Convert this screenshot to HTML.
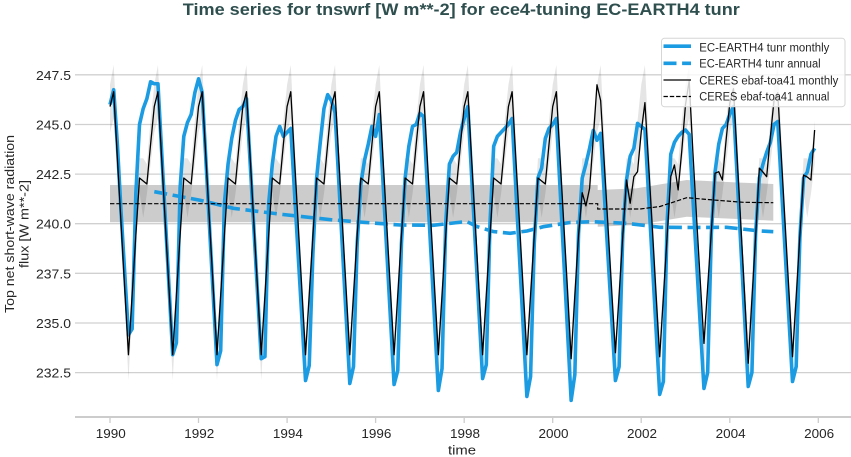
<!DOCTYPE html>
<html>
<head>
<meta charset="utf-8">
<style>
html,body{margin:0;padding:0;background:#fff;}
svg{display:block;}
text{font-family:"Liberation Sans","DejaVu Sans",sans-serif;}
.nss{vector-effect:non-scaling-stroke;}
</style>
</head>
<body>
<svg width="851" height="457" viewBox="0 0 851 457" xmlns="http://www.w3.org/2000/svg">
<rect x="0" y="0" width="851" height="457" fill="#ffffff"/>

<!-- title -->
<text x="461.3" y="15" text-anchor="middle" font-size="16.5" font-weight="bold" fill="#2f4f4f" textLength="557" lengthAdjust="spacingAndGlyphs">Time series for tnswrf [W m**-2] for ece4-tuning EC-EARTH4 tunr</text>

<!-- gridlines -->
<g stroke="#d0d0d0" stroke-width="1.3">
<line x1="75" y1="74.8" x2="851" y2="74.8"/>
<line x1="75" y1="124.5" x2="851" y2="124.5"/>
<line x1="75" y1="174.1" x2="851" y2="174.1"/>
<line x1="75" y1="223.7" x2="851" y2="223.7"/>
<line x1="75" y1="273.3" x2="851" y2="273.3"/>
<line x1="75" y1="323.0" x2="851" y2="323.0"/>
<line x1="75" y1="372.6" x2="851" y2="372.6"/>
</g>

<!-- bottom spine and ticks -->
<line x1="75" y1="417" x2="851" y2="417" stroke="#cccccc" stroke-width="2"/>
<g stroke="#cccccc" stroke-width="1.3">
<line x1="110" y1="418" x2="110" y2="423"/>
<line x1="198.5" y1="418" x2="198.5" y2="423"/>
<line x1="287.1" y1="418" x2="287.1" y2="423"/>
<line x1="375.6" y1="418" x2="375.6" y2="423"/>
<line x1="464.2" y1="418" x2="464.2" y2="423"/>
<line x1="552.7" y1="418" x2="552.7" y2="423"/>
<line x1="641.2" y1="418" x2="641.2" y2="423"/>
<line x1="729.8" y1="418" x2="729.8" y2="423"/>
<line x1="818.3" y1="418" x2="818.3" y2="423"/>
</g>

<!-- y tick labels -->
<g font-size="12.5" fill="#262626" text-anchor="end">
<text x="71" y="79.8" textLength="35" lengthAdjust="spacingAndGlyphs">247.5</text>
<text x="71" y="129.5" textLength="35" lengthAdjust="spacingAndGlyphs">245.0</text>
<text x="71" y="179.1" textLength="35" lengthAdjust="spacingAndGlyphs">242.5</text>
<text x="71" y="228.7" textLength="35" lengthAdjust="spacingAndGlyphs">240.0</text>
<text x="71" y="278.3" textLength="35" lengthAdjust="spacingAndGlyphs">237.5</text>
<text x="71" y="328.0" textLength="35" lengthAdjust="spacingAndGlyphs">235.0</text>
<text x="71" y="377.6" textLength="35" lengthAdjust="spacingAndGlyphs">232.5</text>
</g>

<!-- x tick labels -->
<g font-size="12.5" fill="#262626" text-anchor="middle">
<text x="110.8" y="438" textLength="30" lengthAdjust="spacingAndGlyphs">1990</text>
<text x="199.3" y="438" textLength="30" lengthAdjust="spacingAndGlyphs">1992</text>
<text x="287.9" y="438" textLength="30" lengthAdjust="spacingAndGlyphs">1994</text>
<text x="376.4" y="438" textLength="30" lengthAdjust="spacingAndGlyphs">1996</text>
<text x="465" y="438" textLength="30" lengthAdjust="spacingAndGlyphs">1998</text>
<text x="553.5" y="438" textLength="30" lengthAdjust="spacingAndGlyphs">2000</text>
<text x="642" y="438" textLength="30" lengthAdjust="spacingAndGlyphs">2002</text>
<text x="730.6" y="438" textLength="30" lengthAdjust="spacingAndGlyphs">2004</text>
<text x="819.1" y="438" textLength="30" lengthAdjust="spacingAndGlyphs">2006</text>
</g>

<!-- axis labels -->
<text x="462" y="454.5" font-size="13" fill="#262626" text-anchor="middle" textLength="28" lengthAdjust="spacingAndGlyphs">time</text>
<text transform="translate(14,224) rotate(-90)" font-size="13" fill="#262626" text-anchor="middle" textLength="178" lengthAdjust="spacingAndGlyphs">Top net short-wave radiation</text>
<text transform="translate(28.5,224) rotate(-90)" font-size="13" fill="#262626" text-anchor="middle" textLength="88" lengthAdjust="spacingAndGlyphs">flux [W m**-2]</text>

<!-- CERES annual band -->
<polygon points="110,185 597.7,185 597.7,190 636.7,188.3 686.7,180 743.3,182.7 773.3,184 773.3,220.7 743.3,219.3 686.7,216.7 636.7,225 597.7,226.7 597.7,222.3 110,222.3" fill="#000" fill-opacity="0.2"/>

<defs>
<polygon id="yb" points="0,7 1,8 2,4.3 3,0.8 4,-2.6 5,-5.8 6,-2.8 7,0.2 8,3.3 9,3.3 10,3 11,5.2 12,7 12,4.6 11,3 10,1.5 9,0.3 8,1.6 7,-1.4 6,-4.4 5,-7.9 4,-4 3,-0.7 2,2.3 1,5.3 0,4.6" fill="#000" fill-opacity="0.1"/>
<polygon id="ybl" points="0,7 1,8 2,4.3 3,0.8 4,-2.6 5,-5.8 6,-2.8 7,0.2 8,3.3 9,3.3 10,3 11,5.2 11,3 10,1.5 9,0.3 8,1.6 7,-1.4 6,-4.4 5,-7.9 4,-4 3,-0.7 2,2.3 1,5.3 0,4.6" fill="#000" fill-opacity="0.1"/>
</defs>

<g transform="translate(110,223.7) scale(3.689167,-19.85)">
<!-- CERES monthly band -->
<use href="#yb"/>
<use href="#yb" transform="translate(12,0)"/>
<use href="#yb" transform="translate(24,0)"/>
<use href="#yb" transform="translate(36,0)"/>
<use href="#yb" transform="translate(48,0)"/>
<use href="#yb" transform="translate(60,0)"/>
<use href="#yb" transform="translate(72,0)"/>
<use href="#yb" transform="translate(84,0)"/>
<use href="#yb" transform="translate(96,0)"/>
<use href="#yb" transform="translate(108,0)"/>
<use href="#yb" transform="translate(120,0)"/>
<use href="#yb" transform="translate(132,0)"/>
<use href="#yb" transform="translate(144,0)"/>
<use href="#yb" transform="translate(156,0)"/>
<use href="#yb" transform="translate(168,0)"/>
<use href="#ybl" transform="translate(180,0)"/>

<!-- EC-EARTH4 monthly -->
<polyline class="nss" fill="none" stroke="#1b9be2" stroke-width="3.6" stroke-linejoin="round" stroke-linecap="butt" points="0,6.0 1,6.75 2,4.0 3,0.58 4,-2.51 5,-5.6 6,-5.3 7,1.5 8,5 9,5.8 10,6.3 11,7.15 12,7.05 13,7.05 14,3.64 15,0.23 16,-3.19 17,-6.6 18,-6 19,1.8 20,4.4 21,5.1 22,5.5 23,6.6 24,7.3 25,6.6 26,3.18 27,-0.25 28,-3.68 29,-7.1 30,-6.4 31,1 32,3 33,4.3 34,5.2 35,5.75 36,5.9 37,6.3 38,3.03 39,-0.25 40,-3.53 41,-6.8 42,-6.7 43,1 44,3 45,4.4 46,4.9 47,4.4 48,4.6 49,4.8 50,1.63 51,-1.55 52,-4.73 53,-7.9 54,-7.15 55,-1.5 56,2.3 57,4.1 58,5.8 59,6.5 60,6.2 61,5.6 62,2.19 63,-1.23 64,-4.64 65,-8.05 66,-7.2 67,-1 68,2 69,3.2 70,4 71,4.9 72,4.4 73,5.5 74,2.1 75,-1.3 76,-4.7 77,-8.1 78,-7.4 79,-1 80,2.3 81,3.9 82,4.9 83,5 84,5.56 85,5.4 86,1.95 87,-1.5 88,-4.95 89,-8.4 90,-7.3 91,0 92,3 93,3.4 94,3.6 95,4.6 96,5.3 97,5.9 98,2.48 99,-0.95 100,-4.38 101,-7.8 102,-7.1 103,0 104,3.9 105,4.4 106,4.6 107,4.8 108,5 109,5.3 110,1.8 111,-1.7 112,-5.2 113,-8.7 114,-7.7 115,-1 116,2.3 117,2.8 118,4.3 119,4.8 120,5 121,5.3 122,1.75 123,-1.8 124,-5.35 125,-8.9 126,-7.6 127,-0.5 128,2.3 129,3 130,3.8 131,4.7 132,4.2 133,4.55 134,1.44 135,-1.68 136,-4.79 137,-7.9 138,-7.2 139,-0.5 140,2.2 141,3.4 142,3.8 143,5.05 144,4.9 145,4.75 146,1.41 147,-1.93 148,-5.26 149,-8.6 150,-7.95 151,0 152,3.5 153,4.1 154,4.4 155,4.6 156,4.72 157,4.5 158,1.3 159,-1.9 160,-5.1 161,-8.3 162,-7.5 163,-0.5 164,2.6 165,4 166,4.8 167,5 168,5.5 169,5.9 170,2.38 171,-1.15 172,-4.68 173,-8.2 174,-7.5 175,-0.5 176,2.3 177,3 178,3.6 179,4.1 180,5 181,5.15 182,1.88 183,-1.4 184,-4.68 185,-7.95 186,-7.2 187,-0.7 188,2.3 189,2.6 190,3.5 191,3.8"/>
</g>

<!-- EC-EARTH4 annual (dashed) -->
<polyline fill="none" stroke="#1b9be2" stroke-width="3.6" stroke-dasharray="13,5.6" points="154.3,191.7 200,200.2 233.3,208.3 283,214.5 333.3,220 366,222.5 400,225 433,225.3 466.7,221.5 476.7,226.5 493,231.5 510,233.3 527,231 543.3,226.7 570,222.5 593.3,221.7 626.7,223.3 660,227.3 693,227.5 726.7,227.3 760,231 773.3,231.7"/>

<g transform="translate(110,223.7) scale(3.689167,-19.85)">
<!-- CERES monthly -->
<polyline class="nss" fill="none" stroke="#000" stroke-width="1.3" stroke-linejoin="round" points="0,5.9 1,6.65 2,3.3 3,0 4,-3.3 5,-6.6 6,-3.6 7,-0.6 8,2.3 9,2.15 10,2 11,4 12,5.9 13,6.65 14,3.3 15,0 16,-3.3 17,-6.6 18,-3.6 19,-0.6 20,2.3 21,2.15 22,2 23,4 24,5.9 25,6.65 26,3.3 27,0 28,-3.3 29,-6.6 30,-3.6 31,-0.6 32,2.3 33,2.15 34,2 35,4 36,5.9 37,6.65 38,3.3 39,0 40,-3.3 41,-6.6 42,-3.6 43,-0.6 44,2.3 45,2.15 46,2 47,4 48,5.9 49,6.65 50,3.3 51,0 52,-3.3 53,-6.6 54,-3.6 55,-0.6 56,2.3 57,2.15 58,2 59,4 60,5.9 61,6.65 62,3.3 63,0 64,-3.3 65,-6.6 66,-3.6 67,-0.6 68,2.3 69,2.15 70,2 71,4 72,5.9 73,6.65 74,3.3 75,0 76,-3.3 77,-6.6 78,-3.6 79,-0.6 80,2.3 81,2.15 82,2 83,4 84,5.9 85,6.65 86,3.3 87,0 88,-3.3 89,-6.6 90,-3.6 91,-0.6 92,2.3 93,2.15 94,2 95,4 96,5.9 97,6.65 98,3.3 99,0 100,-3.3 101,-6.6 102,-3.6 103,-0.6 104,2.3 105,2.15 106,2 107,4 108,5.9 109,6.65 110,3.3 111,0 112,-3.3 113,-6.6 114,-3.6 115,-0.6 116,2.3 117,2.15 118,2 119,4 120,5.9 121,6.65 122,3.3 123,0 124,-3.3 125,-6.8 126,-3.6 127,-0.6 128,1.56 129,0.9 130,1.78 131,4.3 132,7 133,6.2 134,3 135,-0.2 136,-3.4 137,-6.5 138,-3.6 139,-0.6 140,2.2 141,1.03 142,2.37 143,2.62 144,4.63 145,6.1 146,3 147,-0.2 148,-3.5 149,-6.7 150,-3.7 151,-0.7 152,2.37 153,2.96 154,1.7 155,3.7 156,6 157,7.2 158,3.6 159,0.3 160,-2.9 161,-6.03 162,-3.2 163,-0.4 164,2.54 165,2.62 166,2.2 167,4.2 168,6.07 169,6.8 170,3.3 171,-0.1 172,-3.5 173,-7.03 174,-3.8 175,-0.7 176,2.8 177,2.6 178,2.37 179,4.38 180,6.23 181,6.6 182,3.3 183,0 184,-3.3 185,-6.7 186,-3.7 187,-0.6 188,2.45 189,2.35 190,2.2 191,4.72"/>
</g>

<!-- CERES annual (dashed) -->
<polyline fill="none" stroke="#000" stroke-width="1.2" stroke-dasharray="4.4,1.9" points="110,203.7 597.7,203.7 597.7,209 640,209 660,206.5 686.7,197.7 713.3,200 743.3,202.3 773.3,202.7"/>

<!-- legend -->
<rect x="661.5" y="38.3" width="183.5" height="68.4" rx="3" ry="3" fill="#ffffff" fill-opacity="0.8" stroke="#d6d6d6" stroke-width="1"/>
<line x1="663.5" y1="46.2" x2="691" y2="46.2" stroke="#1b9be2" stroke-width="3.6"/>
<line x1="663.5" y1="63.3" x2="691" y2="63.3" stroke="#1b9be2" stroke-width="3.6" stroke-dasharray="13,5.6"/>
<line x1="663.5" y1="80" x2="691" y2="80" stroke="#000" stroke-width="1.3"/>
<line x1="663.5" y1="96.5" x2="691" y2="96.5" stroke="#000" stroke-width="1.2" stroke-dasharray="4.4,1.9"/>
<g font-size="11.5" fill="#262626">
<text x="699.3" y="51.3" textLength="130" lengthAdjust="spacingAndGlyphs">EC-EARTH4 tunr monthly</text>
<text x="699.3" y="67.7" textLength="121.3" lengthAdjust="spacingAndGlyphs">EC-EARTH4 tunr annual</text>
<text x="699.3" y="84.3" textLength="139" lengthAdjust="spacingAndGlyphs">CERES ebaf-toa41 monthly</text>
<text x="699.3" y="100.3" textLength="130" lengthAdjust="spacingAndGlyphs">CERES ebaf-toa41 annual</text>
</g>
</svg>
</body>
</html>
